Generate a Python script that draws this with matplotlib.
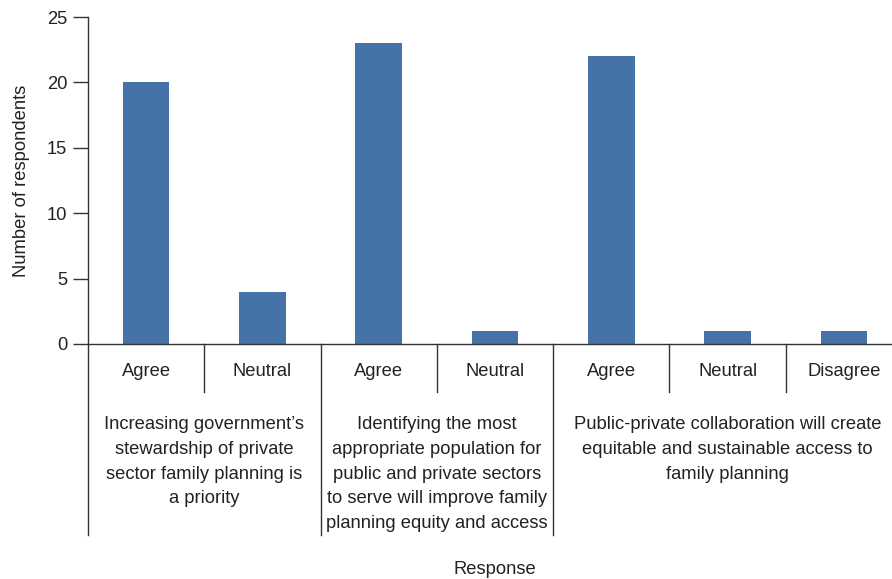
import matplotlib
matplotlib.use("Agg")
import matplotlib.pyplot as plt

categories = ["Agree", "Neutral", "Agree", "Neutral", "Agree", "Neutral", "Disagree"]
values = [20, 4, 23, 1, 22, 1, 1]
groups = [
    "Increasing government\u2019s\nstewardship of private\nsector family planning is\na priority",
    "Identifying the most\nappropriate population for\npublic and private sectors\nto serve will improve family\nplanning equity and access",
    "Public-private collaboration will create\nequitable and sustainable access to\nfamily planning",
]
group_sizes = [2, 2, 3]
yticks = [0, 5, 10, 15, 20, 25]

plt.rcParams['font.family'] = ['Liberation Sans', 'DejaVu Sans']
fs = 13.2
dark = '#333333'
txt = '#222222'

fig = plt.figure(figsize=(8.92, 5.79), dpi=100)
ax = fig.add_axes([88/892, 235/579, 814/892, 327/579])
x = list(range(len(values)))
ax.bar(x, values, width=0.40, color='#4573a7', zorder=2)
ax.set_xlim(-0.5, len(values) - 0.5)
ax.set_ylim(0, 25)
ax.set_yticks(yticks)
ax.set_yticklabels([str(v) for v in yticks], fontsize=fs, color=txt)
ax.tick_params(axis='y', length=11, width=1, color=dark, pad=4)
ax.set_xticks([])
for s in ['top', 'right']:
    ax.spines[s].set_visible(False)
for s in ['left', 'bottom']:
    ax.spines[s].set_color(dark)
    ax.spines[s].set_linewidth(1)

tr = ax.get_xaxis_transform()
short = -48/327
long_ = -191/327
for i, c in enumerate(categories):
    ax.text(i, -28/327, c, transform=tr, ha='center', va='center', fontsize=fs, color=txt)
bounds = [0]
for g in group_sizes:
    bounds.append(bounds[-1] + g)
for i in range(1, len(values) + 1):
    xb = i - 0.5
    yb = long_ if i in bounds else short
    ax.plot([xb, xb], [0, yb], transform=tr, color=dark, lw=1, clip_on=False)
ax.plot([-0.5, -0.5], [0, long_], transform=tr, color=dark, lw=1, clip_on=False)
for gi, g in enumerate(groups):
    cx = (bounds[gi] + bounds[gi + 1]) / 2 - 0.5
    ax.text(cx, -72/327, g, transform=tr, ha='center', va='top', fontsize=fs,
            color=txt, linespacing=1.6, multialignment='center')

ax.text(len(values)/2 - 0.5, -226/327, "Response", transform=tr, ha='center',
        va='center', fontsize=fs, color=txt)
ax.set_ylabel("Number of respondents", fontsize=fs, color=txt)
ax.yaxis.set_label_coords(-58/814, 0.5)

fig.savefig("out.png", dpi=100)
